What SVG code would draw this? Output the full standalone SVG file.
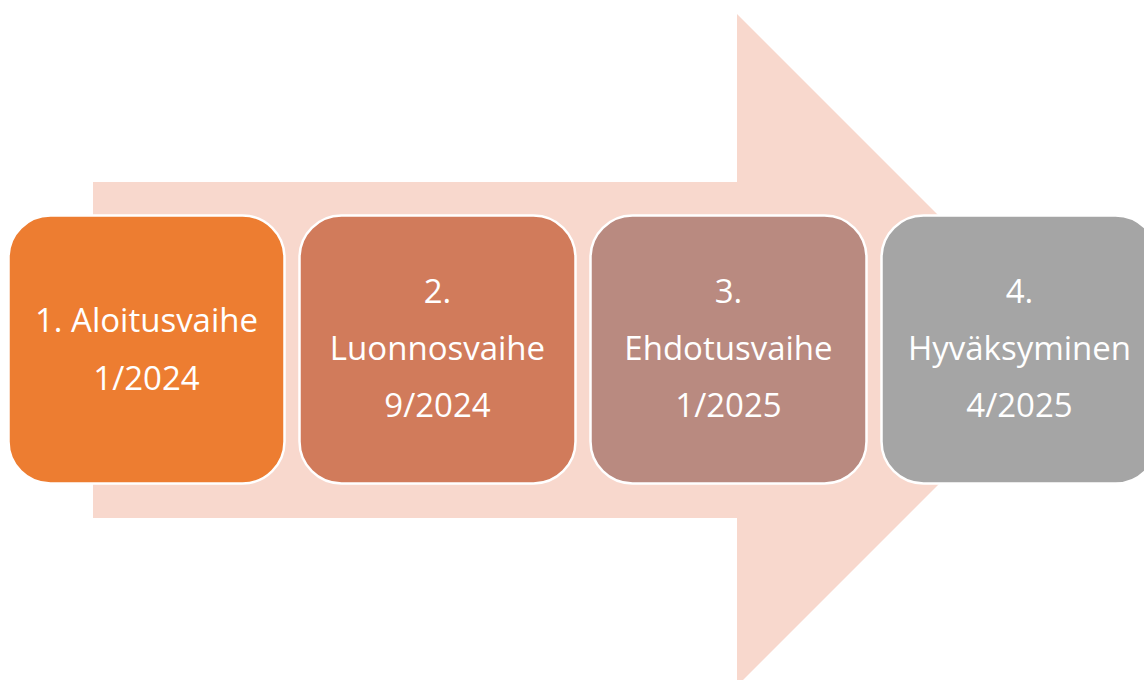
<svg xmlns="http://www.w3.org/2000/svg" width="1144" height="680" viewBox="0 0 1144 680">
<style>
.box{stroke:#fff;stroke-width:2.5}
.t{font-family:"Open Sans","Liberation Sans",sans-serif;font-size:33px;fill:#fff;text-anchor:middle}
</style>
<rect width="1144" height="680" fill="#fff"/>
<g id="arrow">
<polygon points="93,182 737,182 737,14 1073,350 737,686 737,518 93,518" fill="#F8D8CD"/>
</g>
<g id="connectors"></g>
<g id="step1">
<rect class="box" x="8.5" y="215.5" width="276" height="268" rx="42" fill="#ED7D31"/>
<text class="t" x="146.5" y="332">1. Aloitusvaihe</text>
<text class="t" x="146.5" y="390">1/2024</text>
</g>
<g id="step2">
<rect class="box" x="299.5" y="215.5" width="276" height="268" rx="42" fill="#D17B5B"/>
<text class="t" x="437.5" y="303">2.</text>
<text class="t" x="437.5" y="360">Luonnosvaihe</text>
<text class="t" x="437.5" y="417">9/2024</text>
</g>
<g id="step3">
<rect class="box" x="590.5" y="215.5" width="276" height="268" rx="42" fill="#B98A80"/>
<text class="t" x="728.5" y="303">3.</text>
<text class="t" x="728.5" y="360">Ehdotusvaihe</text>
<text class="t" x="728.5" y="417">1/2025</text>
</g>
<g id="step4">
<rect class="box" x="881.5" y="215.5" width="276" height="268" rx="42" fill="#A5A5A5"/>
<text class="t" x="1019.5" y="303">4.</text>
<text class="t" x="1019.5" y="360">Hyväksyminen</text>
<text class="t" x="1019.5" y="417">4/2025</text>
</g>
</svg>
